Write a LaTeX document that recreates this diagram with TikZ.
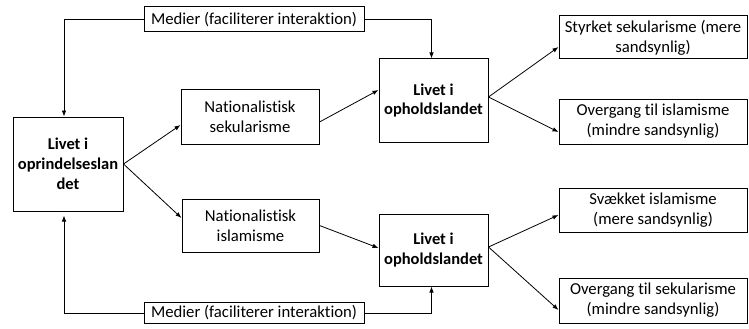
\documentclass[tikz,border=0pt]{standalone}
\usepackage{fontspec}
\setmainfont{Carlito}[Ligatures=NoCommon]
\usetikzlibrary{arrows.meta}
\begin{document}
\begin{tikzpicture}[x=1pt,y=-1pt,
  box/.style={draw,line width=1pt,inner sep=0pt,align=center,font=\fontsize{16.7}{19.8}\selectfont},
  bbox/.style={box,font=\fontsize{16.5}{19.8}\selectfont\bfseries},
  arr/.style={line width=0.8pt,-{Latex[length=6pt,width=4.5pt]}},
  ln/.style={line width=0.8pt}]
\useasboundingbox (0,0) rectangle (749,329);
\node[bbox,minimum width=110pt,minimum height=94pt] (L) at (68,164) {Livet i\\oprindelseslan\\det};
\node[box,minimum width=138pt,minimum height=55pt] (NS) at (250,116.5) {Nationalistisk\\sekularisme};
\node[box,minimum width=137pt,minimum height=53pt] (NI) at (250.5,225.5) {Nationalistisk\\islamisme};
\node[bbox,minimum width=109pt,minimum height=83pt] (U) at (433.5,100.5) {Livet i\\opholdslandet};
\node[bbox,minimum width=109pt,minimum height=72pt] (D) at (433.5,250) {Livet i\\opholdslandet};
\node[box,minimum width=188pt,minimum height=43pt] (R1) at (653,37.5) {Styrket sekularisme (mere\\sandsynlig)};
\node[box,minimum width=188pt,minimum height=45pt] (R2) at (653,121.5) {Overgang til islamisme\\(mindre sandsynlig)};
\node[box,minimum width=188pt,minimum height=44pt] (R3) at (653,210) {Svækket islamisme\\(mere sandsynlig)};
\node[box,minimum width=188pt,minimum height=45pt] (R4) at (653,300.5) {Overgang til sekularisme\\(mindre sandsynlig)};
\node[box,minimum width=220pt,minimum height=25pt] (M1) at (254,19.5) {Medier (faciliterer interaktion)};
\node[box,minimum width=220pt,minimum height=21pt] (M2) at (254,313) {Medier (faciliterer interaktion)};
% connectors
\draw[arr] (L.east) -- ([yshift=-8.5pt]NS.west);
\draw[arr] (L.east) -- ([yshift=7.5pt]NI.west);
\draw[arr] ([yshift=-5.5pt]NS.east) -- ([yshift=10.5pt]U.west);
\draw[arr] (NI.east) -- ([yshift=2pt]D.west);
\draw[arr] ([yshift=3.5pt]U.east) -- ([yshift=-9.5pt]R1.west);
\draw[arr] ([yshift=3.5pt]U.east) -- ([yshift=-10.5pt]R2.west);
\draw[arr] ([yshift=3pt]D.east) -- ([yshift=-5pt]R3.west);
\draw[arr] ([yshift=3pt]D.east) -- ([yshift=-9.5pt]R4.west);
\draw[arr] (M1.west) -| ([xshift=-4pt]L.north);
\draw[arr] (M1.east) -| ([xshift=-2pt]U.north);
\draw[arr] (M2.west) -| ([xshift=-4pt,yshift=-4pt]L.south);
\draw[arr] (M2.east) -| ([xshift=-2pt]D.south);
\end{tikzpicture}
\end{document}
